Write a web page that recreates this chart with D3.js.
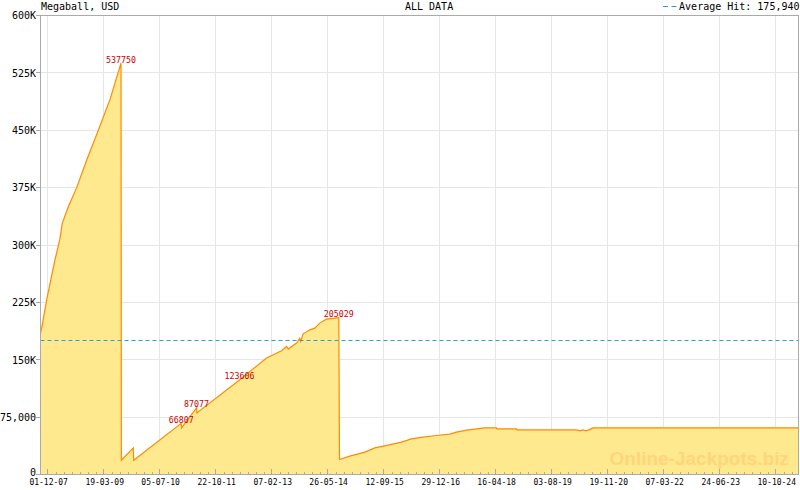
<!DOCTYPE html>
<html><head><meta charset="utf-8">
<script src="https://cdn.jsdelivr.net/npm/d3@7"></script>
<style>body{margin:0;background:#fff}svg{display:block}</style>
</head><body><svg id="c" width="800" height="490"></svg>
<script>
const drawDates = [
 "2007-10-10","2007-10-20","2007-12-01","2008-02-03","2008-03-23","2008-04-11","2008-06-01","2008-08-11",
 "2008-11-04","2009-02-10","2009-05-20","2009-08-21","2009-08-24","2009-12-03","2009-12-06",
 "2011-01-12","2011-01-15","2011-05-22","2011-05-25","2012-05-19","2013-01-03","2013-05-10","2013-06-21",
 "2013-07-05","2013-09-14","2013-10-11","2013-10-19","2013-11-08","2014-01-04","2014-02-15","2014-03-29",
 "2014-05-25","2014-07-20","2014-09-06","2014-09-12","2014-12-08","2015-04-14","2015-07-08","2015-10-28",
 "2016-02-18","2016-05-13","2016-09-02","2016-12-10","2017-04-02","2017-05-28","2017-08-21","2018-01-23",
 "2018-05-02","2018-05-05","2018-10-18","2018-10-21","2020-03-08","2020-04-05","2020-05-01","2020-05-26",
 "2020-06-21","2020-07-26","2025-04-29"
];
const jackpotValues = [
 184800,191300,228300,276100,308800,328400,350000,375000,
 411100,450000,490300,537750,18700,34800,18700,
 66807,60900,87077,80500,123606,152200,161700,167300,
 164000,171800,178300,173900,183900,189100,191300,197900,
 203100,204000,205029,19600,24000,29200,34800,38300,
 42300,46600,49300,51000,52700,55300,57900,61000,
 61000,59700,59700,58400,58400,57100,58400,57100,
 58400,61000,61000
];
const peakDates = ["2009-08-21","2011-01-12","2011-05-22","2012-05-19","2014-09-06"];
const peakValues = [537750,66807,87077,123606,205029];
const averageHit = 175940;
const xTickDates = ["2007-12-01","2009-03-19","2010-07-05","2011-10-22","2013-02-07","2014-05-26","2015-09-12",
 "2016-12-29","2018-04-16","2019-08-03","2020-11-19","2022-03-07","2023-06-24","2024-10-10"];
const yTickValues = [0,75000,150000,225000,300000,375000,450000,525000,600000];
const yTickLabels = ["0","75,000","150K","225K","300K","375K","450K","525K","600K"];
const chartTitle = "Megaball, USD";
const rangeLabel = "ALL DATA";
const avgLabel = "Average Hit: 175,940";
const watermark = "Online-Jackpots.biz";

const parse = d3.timeParse("%Y-%m-%d");
const fmt = d3.timeFormat("%d-%m-%y");
const data = drawDates.map((d,i)=>({date:parse(d), value:jackpotValues[i]}));
const L=40.5, R=798.5, T=15.5, B=474.5;
const x = d3.scaleTime().domain(d3.extent(data,d=>d.date)).range([L,R]);
const y = d3.scaleLinear().domain([0,600000]).range([B,T]);
const svg = d3.select("#c");
const mono = "'DejaVu Sans Mono', monospace";
const ticks = xTickDates.map(parse);

// grid
const g = svg.append("g").attr("shape-rendering","crispEdges");
g.selectAll(".hg").data(yTickValues.slice(1)).enter().append("line")
 .attr("x1",L).attr("x2",R).attr("y1",d=>y(d)).attr("y2",d=>y(d)).attr("stroke","#e6e6e6");
g.selectAll(".vg").data(ticks).enter().append("line")
 .attr("x1",d=>Math.round(x(d))+0.5).attr("x2",d=>Math.round(x(d))+0.5).attr("y1",T).attr("y2",B).attr("stroke","#e6e6e6");

// area + line
svg.append("path").datum(data).attr("fill","#FFE98F")
 .attr("d",d3.area().x(d=>x(d.date)).y0(y(0)).y1(d=>y(d.value)));
svg.append("text").attr("x",789).attr("y",465).attr("text-anchor","end")
 .attr("font-family","'Liberation Sans', Arial, sans-serif").attr("font-weight","bold").attr("font-size",19)
 .attr("fill","#FFD57C").text(watermark);
svg.append("path").datum(data).attr("fill","none").attr("stroke","#FF8A00").attr("stroke-width",1.2)
 .attr("d",d3.line().x(d=>x(d.date)).y(d=>y(d.value)));

// average line
svg.append("line").attr("x1",L).attr("x2",R).attr("y1",Math.round(y(averageHit))+0.5).attr("y2",Math.round(y(averageHit))+0.5)
 .attr("stroke","#2a9fd6").attr("stroke-dasharray","4,3");

// frame
svg.append("rect").attr("x",L).attr("y",T).attr("width",R-L).attr("height",B-T)
 .attr("fill","none").attr("stroke","#aaaaaa").attr("shape-rendering","crispEdges");

// y axis
const ya = svg.append("g").attr("shape-rendering","crispEdges");
ya.selectAll("line").data(yTickValues).enter().append("line")
 .attr("x1",36).attr("x2",L).attr("y1",d=>y(d)).attr("y2",d=>y(d)).attr("stroke","#aaaaaa");
svg.append("g").selectAll("text").data(yTickValues).enter().append("text")
 .attr("x",36).attr("y",d=>d===0 ? y(d)+1.5 : y(d)+3.8).attr("text-anchor","end").attr("font-family",mono).attr("font-size",10)
 .attr("fill","#000").text((d,i)=>yTickLabels[i]);

// x axis ticks (major + minor)
const px = ticks.map(d=>Math.round(x(d))+0.5);
const minor = [];
for (let i=0;i<px.length-1;i++) for (let k=1;k<7;k++) minor.push(px[i]+(px[i+1]-px[i])*k/7);
const step = (px[px.length-1]-px[px.length-2])/7;
for (let p=px[px.length-1]+step; p<R; p+=step) minor.push(p);
const xa = svg.append("g").attr("shape-rendering","crispEdges");
xa.selectAll(".mj").data(px).enter().append("line").attr("x1",d=>d).attr("x2",d=>d)
 .attr("y1",B-6).attr("y2",B).attr("stroke","#aaaaaa");
xa.selectAll(".mn").data(minor).enter().append("line").attr("x1",d=>Math.round(d)+0.5).attr("x2",d=>Math.round(d)+0.5)
 .attr("y1",B-3).attr("y2",B).attr("stroke","#aaaaaa");
svg.append("g").selectAll("text").data(ticks).enter().append("text")
 .attr("x",d=>x(d)+2).attr("y",484.5).attr("text-anchor","middle").attr("font-family",mono).attr("font-size",8)
 .attr("fill","#000").text(d=>fmt(d));

// peak labels
svg.append("g").selectAll("text").data(peakDates).enter().append("text")
 .attr("x",d=>x(parse(d))).attr("y",(d,i)=>y(peakValues[i])-0.5).attr("text-anchor","middle")
 .attr("font-family",mono).attr("font-size",8.3).attr("fill","#cc0000").text((d,i)=>peakValues[i]);

// header
svg.append("text").attr("x",41).attr("y",10).attr("font-family",mono).attr("font-size",10).attr("fill","#000").text(chartTitle);
svg.append("text").attr("x",405).attr("y",10).attr("font-family",mono).attr("font-size",10).attr("fill","#000").text(rangeLabel);
svg.append("text").attr("x",799.5).attr("y",10).attr("text-anchor","end").attr("font-family",mono).attr("font-size",10).attr("fill","#000").text(avgLabel);
svg.append("line").attr("x1",663).attr("x2",677).attr("y1",6.5).attr("y2",6.5).attr("stroke","#2a9fd6").attr("stroke-dasharray","5,3.5");
</script></body></html>
